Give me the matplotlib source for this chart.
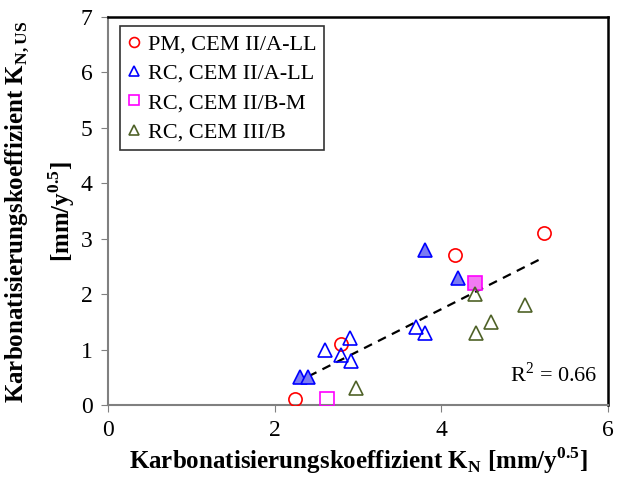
import numpy as np
import matplotlib
matplotlib.use("Agg")
import matplotlib.pyplot as plt

plt.rcParams['font.family'] = ['Liberation Serif', 'DejaVu Serif']
plt.rcParams['mathtext.fontset'] = 'custom'
plt.rcParams['mathtext.rm'] = 'Liberation Serif'
plt.rcParams['mathtext.bf'] = 'Liberation Serif:bold'

# Data
pm_x = [2.24, 2.79, 4.16, 5.23]
pm_y = [0.1, 1.1, 2.7, 3.1]
rca_open_x = [2.6, 2.9, 2.8, 2.92, 3.69, 3.8]
rca_open_y = [1.0, 1.2, 0.9, 0.8, 1.4, 1.3]
rca_fill_x = [2.3, 2.4, 3.8, 4.2]
rca_fill_y = [0.5, 0.5, 2.8, 2.3]
rcb_open_x = [2.63]
rcb_open_y = [0.1]
rcb_fill_x = [4.4]
rcb_fill_y = [2.2]
rc3_x = [2.98, 4.4, 4.41, 4.6, 5.0]
rc3_y = [0.3, 2.0, 1.3, 1.5, 1.8]
r2_label = "R$^2$ = 0.66"
x_ticks = [0, 2, 4, 6]
y_ticks = [0, 1, 2, 3, 4, 5, 6, 7]

fig = plt.figure(figsize=(6.19, 4.84), dpi=100)
ax = fig.add_axes([108/619, 1-405/484, 500/619, 388/484])

ms = 9.5
ax.plot(pm_x, pm_y, 'o', ms=ms, mfc='none', mec='#FF0000', mew=1.2, label='PM, CEM II/A-LL', zorder=3)
ax.plot(rca_open_x, rca_open_y, '^', ms=ms, mfc='none', mec='#0000FF', mew=1.2, label='RC, CEM II/A-LL', zorder=3)
ax.plot(rca_fill_x, rca_fill_y, '^', ms=ms, mfc='#7B7BF2', mec='#0000FF', mew=1.2, zorder=3)
ax.plot(rcb_open_x, rcb_open_y, 's', ms=ms, mfc='none', mec='#FF00FF', mew=1.2, label='RC, CEM II/B-M', zorder=3)
ax.plot(rcb_fill_x, rcb_fill_y, 's', ms=ms, mfc='#F27BF2', mec='#FF00FF', mew=1.2, zorder=3)
ax.plot(rc3_x, rc3_y, '^', ms=ms, mfc='none', mec='#4F6228', mew=1.2, label='RC, CEM III/B', zorder=3)

allx = np.array(pm_x + rca_open_x + rca_fill_x + rcb_open_x + rcb_fill_x + rc3_x)
ally = np.array(pm_y + rca_open_y + rca_fill_y + rcb_open_y + rcb_fill_y + rc3_y)
k, d = np.polyfit(allx, ally, 1)
xl = np.array([allx.min(), allx.max()])
ax.plot(xl, k*xl + d, '--', color='black', lw=1.6, dashes=(4, 3), zorder=2)

ax.text(4.82, 0.55, r2_label, fontsize=16, ha='left', va='center')

ax.set_xlim(0, 6)
ax.set_ylim(0, 7)
ax.set_xticks(x_ticks)
ax.set_yticks(y_ticks)
ax.tick_params(direction='out', length=5, color='#808080', labelsize=17, pad=6)
for s in ['left', 'bottom']:
    ax.spines[s].set_color('#808080')
    ax.spines[s].set_linewidth(1.5)
for s in ['top', 'right']:
    ax.spines[s].set_color('black')
    ax.spines[s].set_linewidth(1.8)

ax.set_xlabel(r'Karbonatisierungskoeffizient K$_\mathbf{N}$ [mm/y$^\mathbf{0.5}$]',
              fontsize=18, fontweight='bold', labelpad=3)
fig.text(17/619, 1-212/484, r'Karbonatisierungskoeffizient K$_\mathbf{N,US}$', rotation=90,
         fontsize=18, fontweight='bold', ha='center', va='center')
fig.text(62/619, 1-212/484, r'[mm/y$^\mathbf{0.5}$]', rotation=90,
         fontsize=18, fontweight='bold', ha='center', va='center')

leg = ax.legend(loc='upper left', bbox_to_anchor=(12/500, 1-9/388), fontsize=16, frameon=True,
                fancybox=False, edgecolor='black', handlelength=0.6, handletextpad=0.3,
                borderpad=0.35, labelspacing=0.4, markerscale=0.75, borderaxespad=0)
leg.get_frame().set_linewidth(1.2)

fig.savefig('out.png', dpi=100)
